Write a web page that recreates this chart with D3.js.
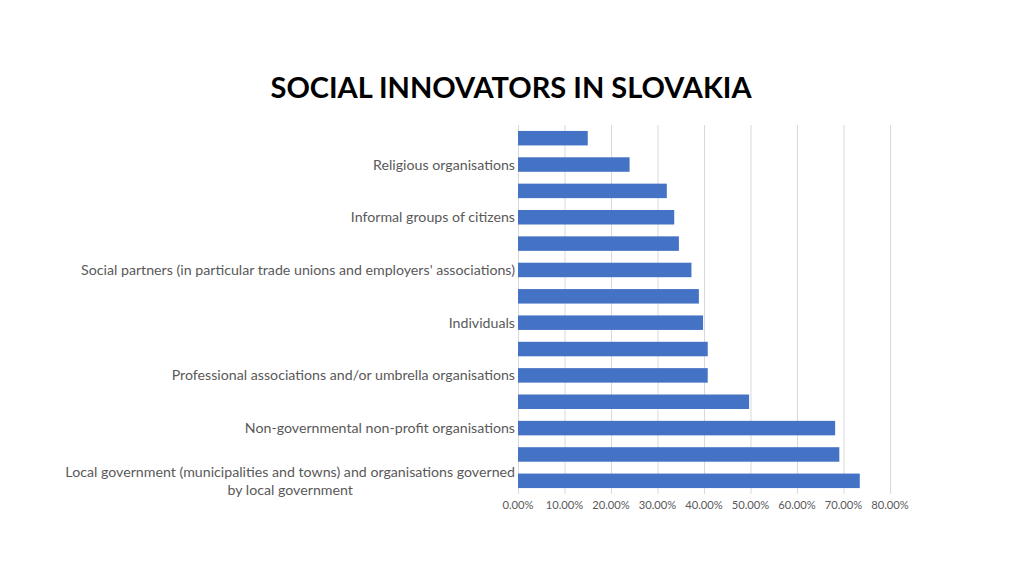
<!DOCTYPE html>
<html>
<head>
<meta charset="utf-8">
<script src="https://cdn.jsdelivr.net/npm/d3@7"></script>
<style>
  body { margin: 0; background: #fff; }
  svg { display: block; font-family: Lato, "Open Sans", sans-serif; }
  .grid line { stroke: #d9d9d9; stroke-width: 1; }
  .tick-label { fill: #595959; font-size: 11.2px; }
  .cat-label { fill: #595959; font-size: 14.2px; }
</style>
</head>
<body>
<svg width="1024" height="575"></svg>
<script>
// categories listed top to bottom; empty ones have no visible label in the original
var categories = [
    "",
    "Religious organisations",
    "",
    "Informal groups of citizens",
    "",
    "Social partners (in particular trade unions and employers' associations)",
    "",
    "Individuals",
    "",
    "Professional associations and/or umbrella organisations",
    "",
    "Non-governmental non-profit organisations",
    "",
    "Local government (municipalities and towns) and organisations governed|by local government"
];
var values = [0.150, 0.240, 0.320, 0.336, 0.346, 0.373, 0.389, 0.398, 0.408, 0.408, 0.497, 0.682, 0.691, 0.735];
var xTicks = [0, 0.1, 0.2, 0.3, 0.4, 0.5, 0.6, 0.7, 0.8];

var svg = d3.select("svg"),
    plotLeft = 518,
    plotRight = 890,
    plotTop = 125,
    plotBottom = 494;

svg.append("text")
    .attr("x", 511)
    .attr("y", 98)
    .attr("text-anchor", "middle")
    .attr("font-size", 29)
    .attr("font-weight", "bold")
    .attr("fill", "#000")
    .text("SOCIAL INNOVATORS IN SLOVAKIA");

var x = d3.scaleLinear()
    .domain([0, 0.8])
    .range([plotLeft, plotRight]);

var y = d3.scaleBand()
    .domain(d3.range(categories.length))
    .range([plotTop, plotBottom])
    .paddingInner(0.45)
    .paddingOuter(0.225);

// vertical gridlines
svg.append("g")
    .attr("class", "grid")
    .selectAll("line")
    .data(xTicks)
    .enter().append("line")
    .attr("x1", function(d) { return x(d) + 0.5; })
    .attr("x2", function(d) { return x(d) + 0.5; })
    .attr("y1", plotTop)
    .attr("y2", plotBottom);

// bars
svg.append("g")
    .selectAll("rect")
    .data(values)
    .enter().append("rect")
    .attr("x", x(0))
    .attr("y", function(d, i) { return y(i); })
    .attr("width", function(d) { return x(d) - x(0); })
    .attr("height", y.bandwidth())
    .attr("fill", "#4472c4");

// x axis labels
var fmt = d3.format(".2%");
svg.append("g")
    .selectAll("text")
    .data(xTicks)
    .enter().append("text")
    .attr("class", "tick-label")
    .attr("x", function(d) { return x(d); })
    .attr("y", 509)
    .attr("text-anchor", "middle")
    .text(function(d) { return fmt(d); });

// category labels (only the labelled ones)
var labelData = categories
    .map(function(d, i) { return { name: d, i: i }; })
    .filter(function(d) { return d.name !== ""; });

svg.append("g")
    .selectAll("text")
    .data(labelData)
    .enter().append("text")
    .attr("class", "cat-label")
    .each(function(d) {
        var cy = y(d.i) + y.bandwidth() / 2;
        var lines = d.name.split("|");
        var t = d3.select(this);
        if (lines.length === 1) {
            t.attr("x", 515).attr("y", cy).attr("dy", "0.35em")
                .attr("text-anchor", "end").text(d.name);
        } else {
            t.attr("text-anchor", "middle");
            lines.forEach(function(l, k) {
                t.append("tspan").attr("y", cy - 9 + k * 18.5).attr("dy", "0.35em").text(l);
            });
            // centre the lines under the first one, right edge at 515
            var first = t.select("tspan").node().getComputedTextLength();
            t.selectAll("tspan").attr("x", 515 - first / 2);
        }
    });
</script>
</body>
</html>
